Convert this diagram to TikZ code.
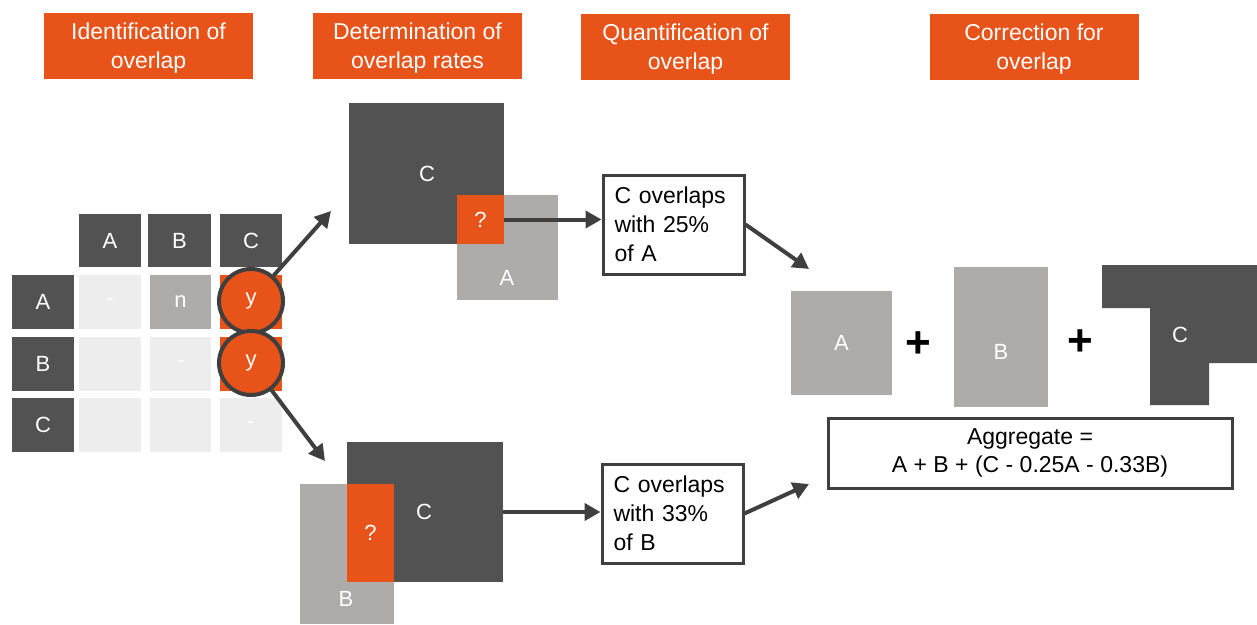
\documentclass[tikz,border=0pt]{standalone}
\usepackage{fontspec}
\setmainfont{Liberation Sans}
\usetikzlibrary{arrows.meta}
\definecolor{orng}{HTML}{E8531A}
\definecolor{dgray}{HTML}{525252}
\definecolor{mgray}{HTML}{AEABAB}
\definecolor{lgray}{HTML}{EDEDED}
\definecolor{lnc}{HTML}{3F3F3F}
\tikzset{
  hdr/.style={fill=orng, inner sep=0, minimum width=209, minimum height=66},
  hdrtxt/.style={text=white, inner sep=0, align=center, font=\fontsize{23}{29}\selectfont},
  cell/.style={inner sep=0, minimum height=54, text=white, font=\fontsize{22}{25}\selectfont},
  blk/.style={inner sep=0, text=white, font=\fontsize{22}{25}\selectfont},
  lbl/.style={inner sep=0, text=white, font=\fontsize{22}{25}\selectfont},
  txtbox/.style={draw=lnc, line width=3, fill=white, inner sep=0, align=left, text width=118, font=\fontsize{23}{29}\selectfont},
  ycirc/.style={circle, draw=lnc, line width=4, fill=orng, minimum size=64, inner sep=0, text=white, font=\fontsize{22}{25}\selectfont},
  arr/.style={draw=lnc, line width=4, -{Triangle[length=16,width=17]}},
  plus/.style={inner sep=0, font=\fontsize{44}{44}\selectfont\bfseries}
}
\begin{document}
\begin{tikzpicture}[x=1pt,y=-1pt]
\useasboundingbox (0,0) rectangle (1257,624);
% headers
\node[hdr] (h1) at (148.5,45.5) {};
\node[hdrtxt] (h1t) at (148.5,48) {Identification of\\overlap};
\node[hdr] (h2) at (417.5,45.5) {};
\node[hdrtxt] (h2t) at (417.5,48) {Determination of\\overlap rates};
\node[hdr] (h3) at (685.5,47) {};
\node[hdrtxt] (h3t) at (685.5,49.5) {Quantification of\\overlap};
\node[hdr] (h4) at (1034,47) {};
\node[hdrtxt] (h4t) at (1034,49.5) {Correction for\\overlap};
% matrix column headers
\node[cell, fill=dgray, minimum width=62, minimum height=53] (cA) at (110,240.5) {A};
\node[cell, fill=dgray, minimum width=63, minimum height=53] (cB) at (179.5,240.5) {B};
\node[cell, fill=dgray, minimum width=62, minimum height=53] (cC) at (251,240.5) {C};
% row headers
\node[cell, fill=dgray, minimum width=62] (rA) at (43,302) {A};
\node[cell, fill=dgray, minimum width=62] (rB) at (43,364) {B};
\node[cell, fill=dgray, minimum width=62] (rC) at (43,425) {C};
% cells
\node[cell, fill=lgray, minimum width=62] (aa) at (110,302) {-};
\node[cell, fill=mgray, minimum width=61] (ab) at (180.5,302) {n};
\node[cell, fill=orng, minimum width=62] (ac) at (251,302) {};
\node[cell, fill=lgray, minimum width=62] (ba) at (110,364) {};
\node[cell, fill=lgray, minimum width=61] (bb) at (180.5,364) {-};
\node[cell, fill=orng, minimum width=62] (bc) at (251,364) {};
\node[cell, fill=lgray, minimum width=62] (ca) at (110,425) {};
\node[cell, fill=lgray, minimum width=61] (cb) at (180.5,425) {};
\node[cell, fill=lgray, minimum width=62] (cc) at (251,425) {-};
% circles
\node[ycirc] (y1) at (251,301) {y};
\node[ycirc] (y2) at (251,363) {y};
% arrows from circles
\coordinate (t1) at (331,211);
\coordinate (t2) at (325,461);
\draw[arr] (y1) -- (t1);
\draw[arr] (y2) -- (t2);
% top overlap group
\node[blk, fill=mgray, minimum width=101, minimum height=105] (A1) at (507.5,247.5) {};
\node[blk, fill=dgray, minimum width=155, minimum height=141] (C1) at (426.5,173.5) {};
\node[blk, fill=orng, minimum width=47, minimum height=49] (q1) at (480.5,219.5) {?};
\node[lbl] (lC1) at (427,174) {C};
\node[lbl] (lA1) at (507,278) {A};
% bottom overlap group
\node[blk, fill=mgray, minimum width=94, minimum height=140] (B2) at (347,554) {};
\node[blk, fill=dgray, minimum width=156, minimum height=140] (C2) at (425,512) {};
\node[blk, fill=orng, minimum width=47, minimum height=98] (q2) at (370.5,533) {?};
\node[lbl] (lC2) at (424,512) {C};
\node[lbl] (lB2) at (346,599) {B};
% text boxes
\node[txtbox, minimum width=141, minimum height=99] (tb1) at (673.5,224.5) {C overlaps\\with 25\%\\of A};
\node[txtbox, minimum width=141, minimum height=99] (tb2) at (672.5,513.5) {C overlaps\\with 33\%\\of B};
\draw[arr] (q1.east) -- (q1.east -| tb1.west);
\draw[arr] (C2.east) -- (C2.east -| tb2.west);
\coordinate (t3) at (809,269);
\coordinate (t4) at (809,484);
\draw[arr] (tb1.east) -- (t3);
\draw[arr] (tb2.east) -- (t4);
% right side
\node[blk, fill=mgray, minimum width=101, minimum height=104] (Ar) at (841.5,343) {A};
\node[plus] (p1) at (918,345) {+};
\node[blk, fill=mgray, minimum width=94, minimum height=140] (Br) at (1001,337) {};
\node[lbl] (lBr) at (1001,352) {B};
\node[plus] (p2) at (1080,343) {+};
\fill[dgray] (1102,265) -- (1257,265) -- (1257,363) -- (1209,363) -- (1209,405) -- (1150,405) -- (1150,308) -- (1102,308) -- cycle;
\node[lbl] (lCr) at (1180,335) {C};
% aggregate
\node[draw=lnc, line width=3, inner sep=0, minimum width=404, minimum height=70, align=center, font=\fontsize{23}{28}\selectfont] (agg) at (1030,453) {Aggregate =\\A + B + (C - 0.25A - 0.33B)};
\end{tikzpicture}
\end{document}
